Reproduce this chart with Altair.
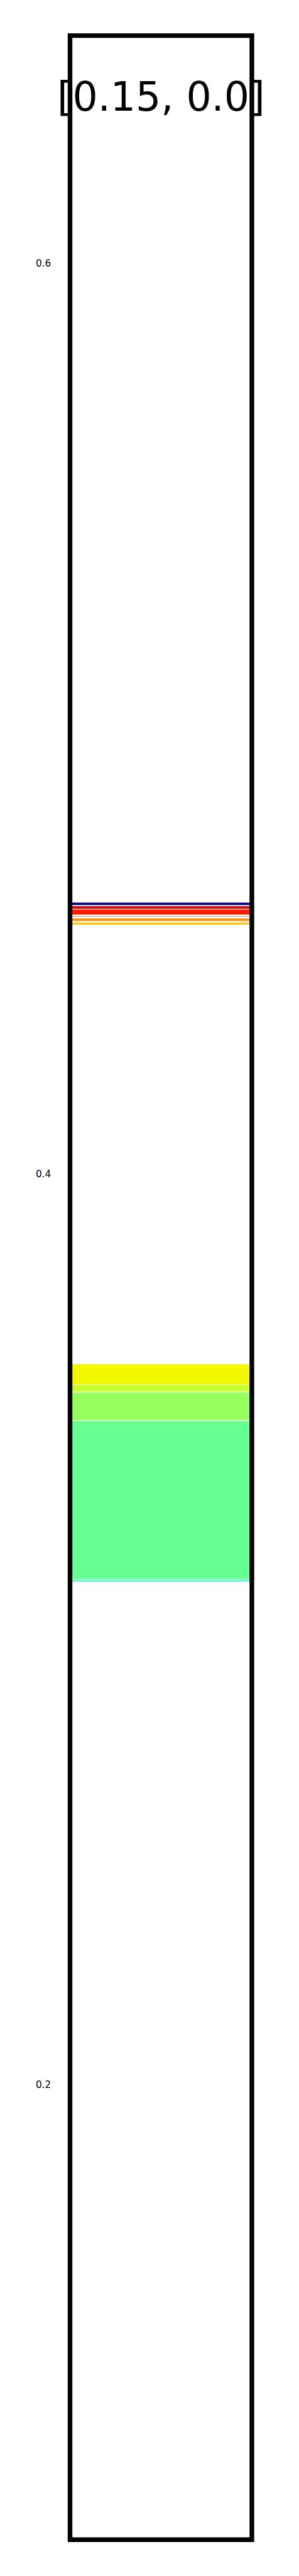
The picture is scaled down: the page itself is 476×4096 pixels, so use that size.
import altair as alt
import pandas as pd

# ---- data ----
band_names = ["navy", "darkred", "red", "peach", "orange", "gold",
              "yellow", "yellowgreen", "lightgreen", "green", "cyan"]
band_low = [0.4590, 0.4582, 0.4569, 0.4564, 0.4555, 0.4547,
            0.3537, 0.3521, 0.3458, 0.3109, 0.3104]
band_high = [0.4596, 0.4588, 0.4581, 0.4566, 0.4561, 0.4552,
             0.3582, 0.3537, 0.3520, 0.3457, 0.3108]
band_colors = ["#000080", "#c40000", "#ff1a00", "#ff9050", "#ff8c00", "#ffc400",
               "#f4f800", "#c8ff2e", "#96ff60", "#66ff90", "#30ffc6"]
y_ticks = [0.2, 0.4, 0.6]
y_domain = [0.1, 0.65]
title_text = ["[0.15, 0.0]"]

S = 0.632
W = 458 * S
H = 6300 * S

df = pd.DataFrame({"name": band_names, "lo": band_low, "hi": band_high})

yscale = alt.Scale(domain=y_domain, nice=False, zero=False)

bands = alt.Chart(df).mark_rect(stroke="white", strokeWidth=0.5).encode(
    x=alt.value(0),
    x2=alt.value(W),
    y=alt.Y("lo:Q", scale=yscale,
            axis=alt.Axis(values=y_ticks, format=".1f", title=None, ticks=False,
                          domain=False, grid=False, labelFont="DejaVu Sans",
                          labelFontSize=24 * S, labelColor="black",
                          labelPadding=49 * S)),
    y2="hi:Q",
    color=alt.Color("name:N", scale=alt.Scale(domain=band_names, range=band_colors),
                    legend=None),
)

# plot frame drawn on top of the bands
frame = alt.Chart(pd.DataFrame({"f": [0]})).mark_rect(
    fill="transparent", stroke="black", strokeWidth=11.7 * S, strokeJoin="miter"
).encode(
    x=alt.value(0), x2=alt.value(W), y=alt.value(0), y2=alt.value(H)
)

title = alt.Chart(pd.DataFrame({"t": title_text})).mark_text(
    font="DejaVu Sans", fontSize=100 * S, color="black",
    align="center", baseline="alphabetic"
).encode(
    text="t:N",
    x=alt.value(W / 2),
    y=alt.value(188.5 * S),
)

chart = alt.layer(bands, frame, title).properties(
    width=W, height=H,
    autosize=alt.AutoSizeParams(type="none"),
    padding={"left": 103.5, "top": 48.6, "right": 60, "bottom": 45},
    background="white",
).configure_view(
    stroke=None, fill="white"
)

chart.save("out.html", embed_options={"renderer": "svg", "actions": False})
